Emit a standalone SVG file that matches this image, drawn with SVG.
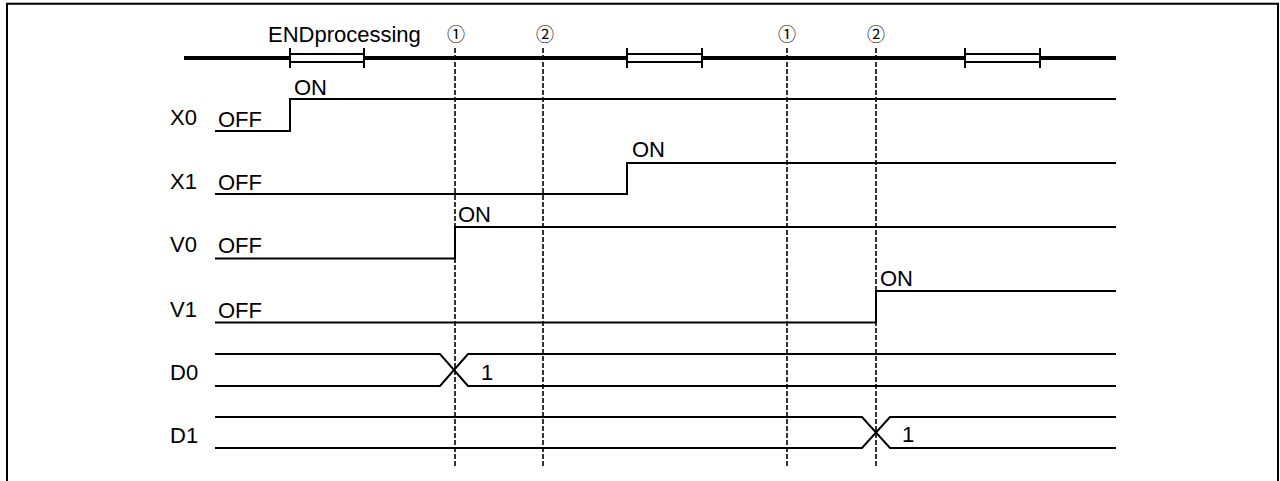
<svg xmlns="http://www.w3.org/2000/svg" width="1280" height="481" viewBox="0 0 1280 481">
<style>
text{font-family:"Liberation Sans",Arial,sans-serif;font-size:22px;fill:#000}
.c{font-family:"Noto Sans CJK JP","DejaVu Sans",sans-serif;font-size:18px;text-anchor:middle}
.sig{fill:none;stroke:#000;stroke-width:2}
.dash{fill:none;stroke:#000;stroke-width:1.6;stroke-dasharray:5 2}
.tl{fill:none;stroke:#000;stroke-width:4}
.box{fill:#fff;stroke:#000;stroke-width:2}
.tick{stroke:#000;stroke-width:2}
</style>
<rect width="1280" height="481" fill="#fff"/>
<path d="M7,482 V3.7 H1278 V482" fill="none" stroke="#000" stroke-width="2"/>

<g id="timeline">
  <line class="tl" x1="184" y1="58" x2="1116" y2="58"/>
  <rect class="box" x="290" y="54" width="74" height="8"/>
  <line class="tick" x1="290" y1="48" x2="290" y2="68"/>
  <line class="tick" x1="364" y1="48" x2="364" y2="68"/>
  <rect class="box" x="627" y="54" width="75" height="8"/>
  <line class="tick" x1="627" y1="48" x2="627" y2="68"/>
  <line class="tick" x1="702" y1="48" x2="702" y2="68"/>
  <rect class="box" x="965" y="54" width="75" height="8"/>
  <line class="tick" x1="965" y1="48" x2="965" y2="68"/>
  <line class="tick" x1="1040" y1="48" x2="1040" y2="68"/>
  <text x="268" y="42">ENDprocessing</text>
  <text class="c" x="456" y="41">①</text>
  <text class="c" x="545" y="41">②</text>
  <text class="c" x="787" y="41">①</text>
  <text class="c" x="876" y="41">②</text>
</g>

<g id="connectors">
  <line class="dash" x1="455" y1="48" x2="455" y2="466"/>
  <line class="dash" x1="543" y1="48" x2="543" y2="466"/>
  <line class="dash" x1="787" y1="48" x2="787" y2="466"/>
  <line class="dash" x1="876" y1="48" x2="876" y2="466"/>
</g>

<g id="X0">
  <text x="170" y="125">X0</text>
  <text x="218" y="127">OFF</text>
  <path class="sig" d="M215,131 H290 V99 H1116"/>
  <text x="294" y="95">ON</text>
</g>
<g id="X1">
  <text x="170" y="189">X1</text>
  <text x="218" y="190">OFF</text>
  <path class="sig" d="M215,194 H627 V163 H1116"/>
  <text x="632" y="157">ON</text>
</g>
<g id="V0">
  <text x="170" y="252">V0</text>
  <text x="218" y="253">OFF</text>
  <path class="sig" d="M215,258.5 H455 V227 H1116"/>
  <text x="458" y="222">ON</text>
</g>
<g id="V1">
  <text x="170" y="317">V1</text>
  <text x="218" y="318">OFF</text>
  <path class="sig" d="M215,322.5 H876 V291 H1116"/>
  <text x="880" y="286">ON</text>
</g>
<g id="D0">
  <text x="170" y="380">D0</text>
  <path class="sig" d="M215,354 H440 L468,386 H1116"/>
  <path class="sig" d="M215,386 H440 L468,354 H1116"/>
  <text x="481" y="380">1</text>
</g>
<g id="D1">
  <text x="170" y="443">D1</text>
  <path class="sig" d="M215,417 H862 L890,448 H1116"/>
  <path class="sig" d="M215,448 H862 L890,417 H1116"/>
  <text x="902" y="442">1</text>
</g>
</svg>
